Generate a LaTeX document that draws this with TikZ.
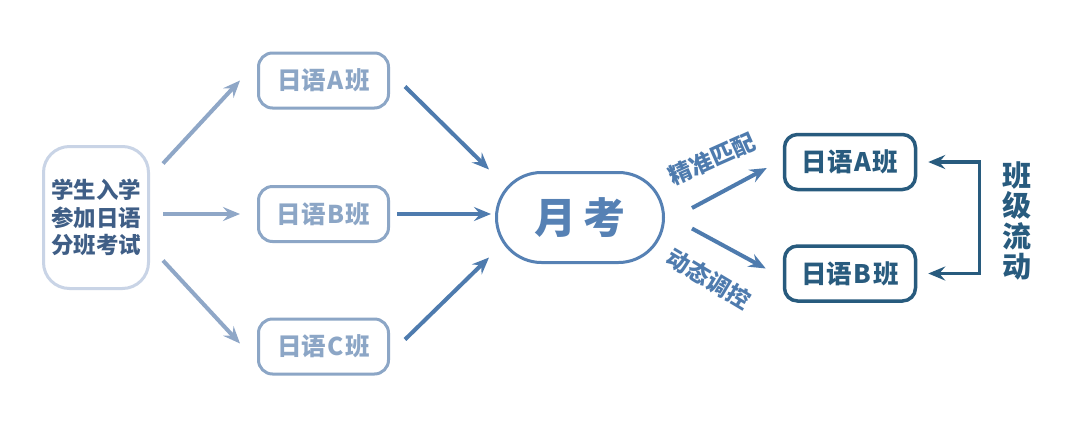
\documentclass[tikz,border=0pt]{standalone}
\usepackage{fontspec}
\newfontfamily\cjk{Noto Sans CJK SC}
\usetikzlibrary{arrows.meta,calc}
\definecolor{leftborder}{HTML}{C9D4E6}
\definecolor{lefttext}{HTML}{3F5E86}
\definecolor{midcol}{HTML}{8CA6C6}
\definecolor{arrowL}{HTML}{8FA7C7}
\definecolor{arrowM}{HTML}{4E7BAE}
\definecolor{yuecol}{HTML}{5681B4}
\definecolor{darkcol}{HTML}{285B7E}
\newcommand{\lt}[1]{\hspace{1.5pt}#1\hspace{1.5pt}}
\tikzset{
  tip/.tip={Stealth[length=17pt,width=14pt,inset=6pt]},
  startbox/.style={draw=leftborder,line width=3pt,rounded corners=26pt,minimum width=105pt,minimum height=142pt,align=center,text=lefttext,font=\cjk\bfseries\fontsize{22.5}{27.5}\selectfont},
  midbox/.style={draw=midcol,line width=3pt,rounded corners=14pt,minimum width=130pt,minimum height=55pt,text=midcol,font=\cjk\bfseries\fontsize{24.5}{26}\selectfont},
  exambox/.style={draw=yuecol,line width=3pt,rounded corners=45pt,minimum width=167pt,minimum height=90pt,text=yuecol,font=\cjk\bfseries\fontsize{42}{44}\selectfont},
  classbox/.style={draw=darkcol,line width=3.5pt,rounded corners=13pt,minimum width=131pt,minimum height=55pt,text=darkcol,font=\cjk\bfseries\fontsize{25.5}{26}\selectfont},
  arrL/.style={draw=arrowL,line width=4pt,-tip},
  arrM/.style={draw=arrowM,line width=4pt,-tip},
  arrR/.style={draw=arrowM,line width=4pt,-tip},
  arrD/.style={draw=darkcol,line width=3.5pt,tip-tip},
  lbl/.style={text=arrowM,font=\cjk\bfseries\fontsize{23}{24}\selectfont},
  vlbl/.style={text=darkcol,align=center,font=\cjk\bfseries\fontsize{29}{30.5}\selectfont},
}
\begin{document}
\begin{tikzpicture}[x=1pt,y=-1pt]
\useasboundingbox[fill=white] (0,0) rectangle (1080,424);
\node[startbox] (s) at (96,217.5) {学生入学\\参加日语\\分班考试};
\node[midbox] (a) at (323.5,80.5) {日语\lt{A}班};
\node[midbox] (b) at (323.5,214) {日语\lt{B}班};
\node[midbox] (c) at (323.5,346.5) {日语\lt{C}班};
\node[exambox] (y) at (580,217.5) {月\hspace{8pt}考};
\node[classbox] (ra) at (850,162) {日语\lt{A}班};
\node[classbox] (rb) at (850,273.5) {日语\lt{B}班};
\node[vlbl] (flow) at (1017,221) {班\\级\\流\\动};
% left arrows
\draw[arrL] ($(s.east)+(13,-54)$) -- ($(a.west)+(-17,0)$);
\draw[arrL] ($(s.east |- b.west)+(13,0)$) -- ($(b.west)+(-17,0)$);
\draw[arrL] ($(s.east)+(13,43)$) -- ($(c.west)+(-17,-3)$);
% middle arrows
\draw[arrM] ($(a.east)+(15,6)$) -- ($(y.west)+(-6,-48)$);
\draw[arrM] ($(b.east)+(7,0)$) -- ($(y.west |- b.east)+(-4,0)$);
\draw[arrM] ($(c.east)+(15,-7)$) -- ($(y.west)+(-6,40)$);
% right arrows
\draw[arrR] ($(y.east)+(27,-9.5)$) -- ($(ra.west)+(-16,6)$);
\draw[arrR] ($(y.east)+(27,11)$) -- ($(rb.west)+(-17,-5)$);
\node[lbl,rotate=24] (l1) at (712,159) {精准匹配};
\node[lbl,rotate=-31] (l2) at (709,279) {动态调控};
% bracket
\draw[arrD] ($(ra.east)+(11,0)$) -- ++(51,0) |- ($(rb.east)+(11,0)$);
\end{tikzpicture}
\end{document}
